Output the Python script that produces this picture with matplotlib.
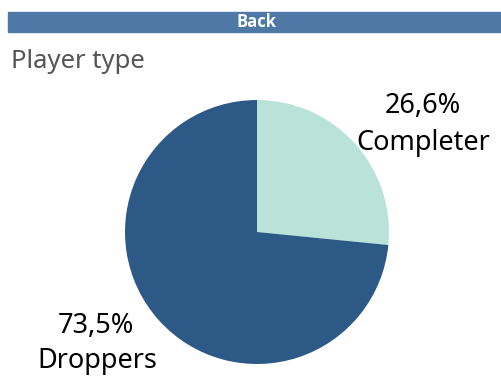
import matplotlib
matplotlib.use("Agg")
from matplotlib import pyplot as plt
from matplotlib.patches import Rectangle

labels = ["Completer", "Droppers"]
shares = [26.6, 73.5]
colors = ["#b9e3d9", "#2c5985"]

W, H = 501, 379
fig = plt.figure(figsize=(W / 100, H / 100), dpi=100)
plt.rcParams['font.family'] = ['Noto Sans', 'DejaVu Sans']

def px(x, y):
    return x / W, 1 - y / H

# Back button bar
fig.patches.append(Rectangle(px(8, 32), (W - 8) / W, 20 / H, transform=fig.transFigure,
                             color="#4e79a7", zorder=0))
fig.text(*px(257, 22), "Back", color="white", fontsize=12, fontweight="bold",
         family=["Open Sans", "DejaVu Sans"], ha="center", va="center")

fig.text(*px(11, 61), "Player type", color="#555555", fontsize=18.5, ha="left", va="center")

# pie
cx, cy, r = 257, 232, 132
ax = fig.add_axes([(cx - r) / W, (H - cy - r) / H, 2 * r / W, 2 * r / H])
ax.pie(shares, colors=colors, startangle=90, counterclock=False, radius=1,
       wedgeprops=dict(linewidth=0))
ax.set_xlim(-1, 1)
ax.set_ylim(-1, 1)
ax.set_aspect("equal")
ax.axis("off")

fs = 19.5
fig.text(*px(423, 106), f"{shares[0]:.1f}%".replace(".", ","), fontsize=fs, ha="center", va="center")
fig.text(*px(423, 143), labels[0], fontsize=fs, ha="center", va="center")
fig.text(*px(96, 326), f"{shares[1]:.1f}%".replace(".", ","), fontsize=fs, ha="center", va="center")
fig.text(*px(97, 361), labels[1], fontsize=fs, ha="center", va="center")

fig.savefig("out.png", dpi=100)
